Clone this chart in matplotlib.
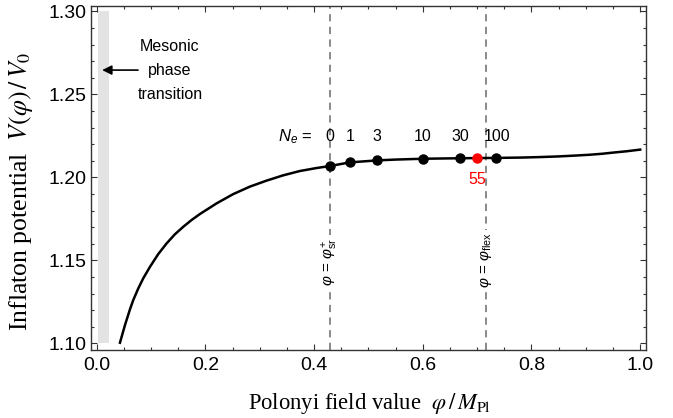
import matplotlib
matplotlib.use("Agg")
import matplotlib.pyplot as plt
from matplotlib.ticker import MultipleLocator, FormatStrFormatter

plt.rcParams['font.family'] = 'Liberation Serif'
plt.rcParams['mathtext.fontset'] = 'stix'
plt.rcParams['mathtext.rm'] = 'Liberation Sans'
plt.rcParams['mathtext.it'] = 'Liberation Sans:italic'
plt.rcParams['mathtext.sf'] = 'Liberation Sans'

# potential curve
phi = [0.0428, 0.0520, 0.0612, 0.0673, 0.0765, 0.0857, 0.0980, 0.1133, 0.1286,
       0.1439, 0.1592, 0.1746, 0.1899, 0.2205, 0.2512, 0.2818, 0.3124, 0.3431,
       0.3737, 0.4044, 0.4289, 0.4656, 0.5158, 0.55, 0.6004, 0.6691, 0.734,
       0.78, 0.815, 0.85, 0.88, 0.907, 0.93, 0.95, 0.975, 1.0]
V = [1.1004, 1.1110, 1.1205, 1.1261, 1.1331, 1.1392, 1.1461, 1.1538, 1.1602,
     1.1657, 1.1702, 1.1743, 1.1779, 1.1843, 1.1899, 1.1944, 1.1980, 1.2012,
     1.2038, 1.2056, 1.2068, 1.2090, 1.2102, 1.2107, 1.2112, 1.2115, 1.2117,
     1.2119, 1.2122, 1.2126, 1.2131, 1.2136, 1.2142, 1.2149, 1.2157, 1.2167]

# e-folding markers
ne_labels = ['0', '1', '3', '10', '30', '100']
ne_phi = [0.4289, 0.4656, 0.5158, 0.6004, 0.6691, 0.734]
ne_V = [1.2068, 1.2090, 1.2102, 1.2112, 1.2115, 1.2117]
ne55_phi = 0.6996
ne55_V = 1.2116

phi_sr = 0.4294
phi_flex = 0.7169
band = (0.002, 0.0225)
band_V = (1.10, 1.30)

fig = plt.figure(figsize=(6.73, 4.18), dpi=100)
ax = fig.add_axes([91 / 673, 1 - 350 / 418, 555 / 673, 344 / 418])

ax.fill_between(band, band_V[0], band_V[1], color='#e3e3e3', lw=0)
ax.axvline(phi_sr, color='#808080', ls=(0, (4, 3)), lw=1.3)
ax.axvline(phi_flex, color='#808080', ls=(0, (4, 3)), lw=1.3)
ax.plot(phi, V, color='black', lw=1.8)
ax.plot(ne_phi, ne_V, 'o', color='black', ms=6.5)
ax.plot(ne55_phi, ne55_V, 'o', color='red', ms=6.5)

sans = dict(family='Liberation Sans', math_fontfamily='custom')
for lab, x in zip(ne_labels, ne_phi):
    # the "100" label sits a touch right of its dot, clear of the dashed line
    dx = 0.003 if lab == '100' else 0.0
    ax.text(x + dx, 1.2245, lab, ha='center', va='center', fontsize=11.5, **sans)
ax.text(0.366, 1.2245, r'$N_e$ =', ha='center', va='center', fontsize=12, **sans)
ax.text(ne55_phi, 1.1984, '55', ha='center', va='center', fontsize=11.5,
        color='red', **sans)

box = dict(facecolor='white', edgecolor='none', pad=2)
ax.text(phi_sr, 1.149, r'$\varphi$ = $\varphi^{+}_{\mathsf{sr}}$', rotation=90,
        ha='center', va='center', fontsize=11, bbox=box, **sans)
ax.text(phi_flex, 1.150, r'$\varphi$ = $\varphi_{\mathsf{flex}}$', rotation=90,
        ha='center', va='center', fontsize=11, bbox=box, **sans)

ax.text(0.1347, 1.2646, 'Mesonic\nphase\ntransition', ha='center', va='center',
        fontsize=11.5, linespacing=1.75, family='Liberation Sans')
ax.annotate('', xy=(0.01, 1.2646), xytext=(0.076, 1.2646),
            arrowprops=dict(arrowstyle='-|>', color='black', lw=1.2,
                            mutation_scale=14, shrinkA=0, shrinkB=0))

ax.set_xlim(-0.0105, 1.0107)
ax.set_ylim(1.096, 1.3032)
ax.xaxis.set_major_locator(MultipleLocator(0.2))
ax.xaxis.set_minor_locator(MultipleLocator(0.05))
ax.yaxis.set_major_locator(MultipleLocator(0.05))
ax.yaxis.set_minor_locator(MultipleLocator(0.01))
ax.xaxis.set_major_formatter(FormatStrFormatter('%.1f'))
ax.yaxis.set_major_formatter(FormatStrFormatter('%.2f'))
ax.tick_params(which='both', direction='in', top=True, right=True,
               color='#333333', width=0.8, labelsize=14,
               labelfontfamily='Liberation Sans')
ax.tick_params(which='major', length=4.5)
ax.tick_params(which='minor', length=2.5)
ax.tick_params(axis='x', pad=5)
ax.tick_params(axis='y', pad=3)
for s in ax.spines.values():
    s.set_color('#333333')
    s.set_linewidth(1.0)

ax.set_xlabel(r'Polonyi field value  $\varphi\,/\,M_{\mathrm{Pl}}$', fontsize=16.3,
              math_fontfamily='stix')
ax.set_ylabel(r'Inflaton potential  $V(\varphi)\,/\,V_0$', fontsize=18.5,
              math_fontfamily='stix')
ax.xaxis.set_label_coords(0.502, -0.12)
ax.yaxis.set_label_coords(-0.101, 0.461)

fig.savefig('out.png', dpi=100)
